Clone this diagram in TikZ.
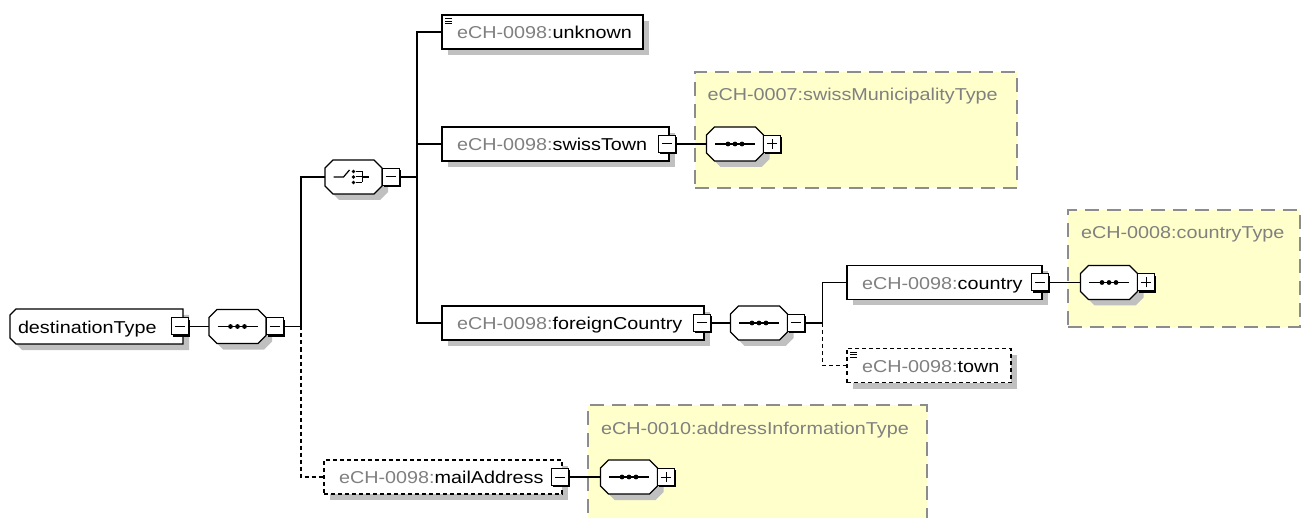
\documentclass[tikz,border=0pt]{standalone}
\usepackage{fontspec}
\setmainfont{Liberation Sans}[FakeStretch=1.15]
\usetikzlibrary{positioning,shadows}

\definecolor{nsgray}{RGB}{128,128,128}
\definecolor{shadowgray}{RGB}{192,192,192}
\definecolor{typeyellow}{RGB}{255,255,204}
\definecolor{typeborder}{RGB}{140,140,140}

\pgfdeclarelayer{background}
\pgfsetlayers{background,main}

\newcommand{\nsname}[2]{\mbox{\textcolor{nsgray}{#1}#2}}
\newcommand{\octpath}[1]{([xshift=8pt]#1.north west) -- ([xshift=-8pt]#1.north east)
  -- ([yshift=-8pt]#1.north east) -- ([yshift=8pt]#1.south east)
  -- ([xshift=-8pt]#1.south east) -- ([xshift=8pt]#1.south west)
  -- ([yshift=8pt]#1.south west) -- ([yshift=-8pt]#1.north west) -- cycle}
\newcommand{\rootpath}[1]{([xshift=6pt]#1.north west) -- (#1.north east) -- (#1.south east)
  -- ([xshift=6pt]#1.south west) -- ([yshift=6pt]#1.south west) -- ([yshift=-6pt]#1.north west) -- cycle}

\tikzset{
  boxshadow/.style={drop shadow={shadow xshift=6pt, shadow yshift=-6pt, fill=shadowgray, opacity=1}},
  elem/.style 2 args={draw, fill=white, line width=1.2pt, rectangle, inner xsep=0pt,
    minimum width=#1, text width=#2, minimum height=34pt, align=left, anchor=west,
    text height=13.4pt, text depth=0pt, boxshadow},
  optelem/.style 2 args={elem={#1}{#2}, dash pattern=on 4pt off 3pt},
  roottype/.style={rectangle, inner xsep=8pt, minimum width=173pt, minimum height=35pt,
    text width=157pt, align=left, anchor=west, text height=13.4pt, text depth=0pt},
  compositor/.style={rectangle, inner sep=0pt, minimum width=57pt, minimum height=34pt},
  outline/.style={draw, fill=white, line width=1.2pt},
  outlineshadow/.style={fill=shadowgray, transform canvas={xshift=6pt, yshift=-6pt}},
  btn/.style={draw, fill=white, line width=1pt, rectangle, inner sep=0pt, minimum size=17pt,
    drop shadow={shadow xshift=1.8pt, shadow yshift=-1.8pt, fill=black, opacity=1}},
  minusbtn/.style={btn},
  plusbtn/.style={btn},
  typebox/.style={draw=typeborder, fill=typeyellow, line width=1.3pt, dash pattern=on 14pt off 8pt,
    rectangle, inner sep=0pt, anchor=north west},
  typename/.style={text=nsgray, anchor=base west, inner sep=0pt},
  link/.style={line width=1.2pt},
  optlink/.style={link, dash pattern=on 4pt off 3pt}
}

\begin{document}
\begin{tikzpicture}[x=1pt, y=-1pt, every node/.style={font=\fontsize{17.2}{20}\selectfont, outer sep=0pt}]
\useasboundingbox (0,0) rectangle (1303,518);

\begin{pgfonlayer}{background}
\node[typebox, minimum width=322pt, minimum height=116pt] (swissType) at (695,72) {};
\node[typebox, minimum width=232pt, minimum height=117pt] (countryType) at (1068,210) {};
\node[typebox, minimum width=339pt, minimum height=130pt] (addrType) at (588,405) {};
\end{pgfonlayer}
\node[typename] (swissTypeName) at (707.5,100.7) {eCH-0007:swissMunicipalityType};
\node[typename] (countryTypeName) at (1081,239) {eCH-0008:countryType};
\node[typename] (addrTypeName) at (601,434) {eCH-0010:addressInformationType};

\node[roottype] (destType) at (10,326.5) {destinationType};
\node[compositor] (seqRoot) at (237.5,326.5) {};
\node[compositor] (choice) at (353.5,177) {};

\node[elem={201pt}{171pt}] (unknown) at (442,32) {\nsname{eCH-0098:}{unknown}};
\node[elem={227pt}{197pt}] (swissTown) at (442,144) {\nsname{eCH-0098:}{swissTown}};
\node[compositor] (seqSwiss) at (735,144) {};
\node[elem={262pt}{232pt}] (foreignCountry) at (442,323) {\nsname{eCH-0098:}{foreignCountry}};
\node[compositor] (seqForeign) at (759,323) {};
\node[elem={195pt}{165pt}] (country) at (847,282.5) {\nsname{eCH-0098:}{country}};
\node[compositor] (seqCountry) at (1109,282.5) {};
\node[optelem={164pt}{134pt}] (town) at (847,365.5) {\nsname{eCH-0098:}{town}};
\node[optelem={238pt}{208pt}] (mailAddress) at (324,477) {\nsname{eCH-0098:}{mailAddress}};
\node[compositor] (seqMail) at (629,477) {};

\begin{pgfonlayer}{background}
\fill[outlineshadow] \rootpath{destType};
\draw[outline] \rootpath{destType};
\foreach \s in {seqRoot, choice, seqSwiss, seqForeign, seqCountry, seqMail} {
  \fill[outlineshadow] \octpath{\s};
  \draw[outline] \octpath{\s};
}
\end{pgfonlayer}

\node[minusbtn] (destBtn) at ([xshift=-3pt]destType.east) {};
\node[minusbtn, right=0pt of seqRoot] (seqRootBtn) {};
\node[minusbtn, right=0pt of choice] (choiceBtn) {};
\node[minusbtn] (swissTownBtn) at ([xshift=-2pt]swissTown.east) {};
\node[plusbtn, right=0pt of seqSwiss] (seqSwissBtn) {};
\node[minusbtn] (foreignCountryBtn) at ([xshift=-2pt]foreignCountry.east) {};
\node[minusbtn, right=0pt of seqForeign] (seqForeignBtn) {};
\node[minusbtn] (countryBtn) at ([xshift=-2pt]country.east) {};
\node[plusbtn, right=0pt of seqCountry] (seqCountryBtn) {};
\node[minusbtn] (mailAddressBtn) at ([xshift=-2pt]mailAddress.east) {};
\node[plusbtn, right=0pt of seqMail] (seqMailBtn) {};

% icons
\foreach \s in {seqRoot, seqSwiss, seqForeign, seqCountry, seqMail} {
  \draw[line width=1.2pt] ([xshift=-20pt]\s.center) -- ([xshift=20pt]\s.center);
  \foreach \d in {-7,0,7}
    \fill ([xshift=\d pt]\s.center) circle (2.4pt);
}
\draw[line width=1.2pt] ([xshift=-20pt]choice.center) -- ([xshift=-10pt]choice.center) -- ([shift={(-4pt,7pt)}]choice.center);
\foreach \d in {5.5,0,-5.5} {
  \fill ([yshift=\d pt]choice.center) circle (1.9pt);
  \draw[line width=1pt] ([shift={(2pt,\d pt)}]choice.center) -- ([shift={(8.5pt,\d pt)}]choice.center);
}
\draw[line width=1pt] ([shift={(8.5pt,5.5pt)}]choice.center) -- ([shift={(8.5pt,-5.5pt)}]choice.center);
\draw[line width=1.2pt] ([xshift=8.5pt]choice.center) -- ([xshift=15pt]choice.center);

\foreach \b in {destBtn, seqRootBtn, choiceBtn, swissTownBtn, foreignCountryBtn, seqForeignBtn, countryBtn, mailAddressBtn}
  \draw[line width=1pt] ([xshift=-5pt]\b.center) -- ([xshift=5pt]\b.center);
\foreach \b in {seqSwissBtn, seqCountryBtn, seqMailBtn}
  \draw[line width=1pt] ([xshift=-5pt]\b.center) -- ([xshift=5pt]\b.center)
    ([yshift=-5pt]\b.center) -- ([yshift=5pt]\b.center);

\foreach \e in {unknown, town}
  \foreach \y in {3.5,6,8.5}
    \draw[line width=0.7pt] ([shift={(3pt,-\y pt)}]\e.north west) -- ++(7,0);

% connectors
\draw[link] (destBtn.east) -- (seqRoot.west);
\draw[link] (seqRootBtn.east) -- ++(18,0) |- (choice.west);
\draw[optlink] ([xshift=18pt]seqRootBtn.east) |- (mailAddress.west);
\draw[link] (choiceBtn.east) -- ++(18,0) |- (unknown.west);
\draw[link] ([xshift=18pt]choiceBtn.east) |- (swissTown.west);
\draw[link] ([xshift=18pt]choiceBtn.east) |- (foreignCountry.west);
\draw[link] (swissTownBtn.east) -- (seqSwiss.west);
\draw[link] (foreignCountryBtn.east) -- (seqForeign.west);
\draw[link] (seqForeignBtn.east) -- ++(18,0) |- (country.west);
\draw[optlink] ([xshift=18pt]seqForeignBtn.east) |- (town.west);
\draw[link] (countryBtn.east) -- (seqCountry.west);
\draw[link] (mailAddressBtn.east) -- (seqMail.west);
\end{tikzpicture}
\end{document}
